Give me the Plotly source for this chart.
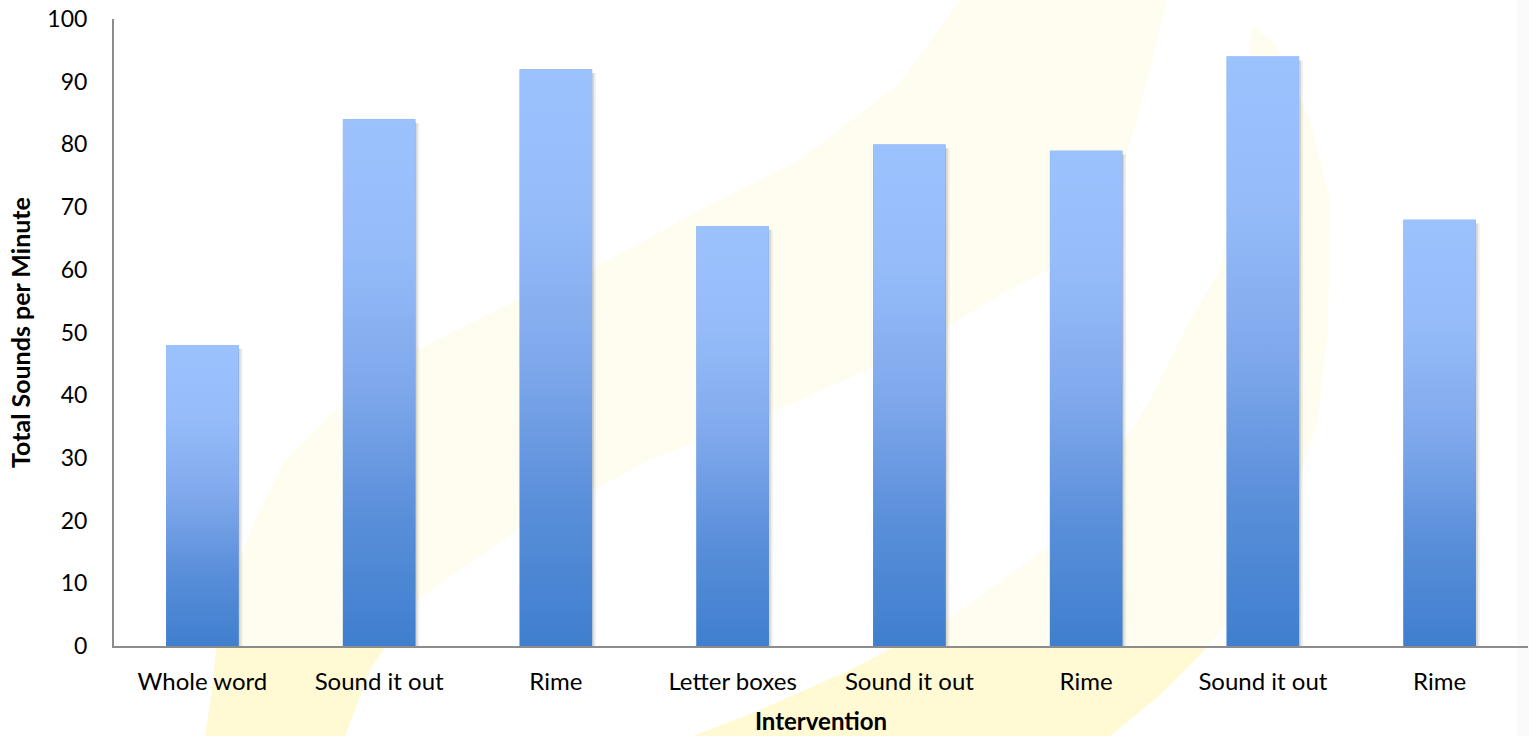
import plotly.graph_objects as go

# ---- data ----
categories = ["Whole word", "Sound it out", "Rime", "Letter boxes",
              "Sound it out", "Rime", "Sound it out", "Rime"]
values = [48, 84, 92, 67, 80, 79, 94, 68]
y_ticks = [0, 10, 20, 30, 40, 50, 60, 70, 80, 90, 100]
y_title = "Total Sounds per Minute"
x_title = "Intervention"

# ---- layout geometry / style ----
W, H = 1529, 736
ML, MR, MT, MB = 114, 1, 19, 90
PW, PH = W - ML - MR, H - MT - MB
BAR_W = 0.41
FONT = "Lato"

positions = list(range(len(categories)))

def px(x, y):
    """pixel -> paper coordinates"""
    return (x - ML) / PW, (H - MB - y) / PH

def path_from(points):
    pts = [px(x, y) for x, y in points]
    return "M " + " L ".join(f"{a:.5f},{b:.5f}" for a, b in pts) + " Z"

# faint background swoosh watermark (decorative)
band_a = [(205, 736), (212, 690), (217, 640), (235, 570), (255, 520), (285, 460),
          (330, 415), (417, 350), (517, 300), (600, 265), (700, 210), (800, 160),
          (900, 83), (960, 0), (1167, 0), (1150, 70), (1133, 133), (1100, 243),
          (1000, 295), (900, 355), (800, 400), (650, 460), (517, 530), (417, 600),
          (370, 670), (345, 736)]
band_b = [(693, 736), (760, 710), (850, 670), (950, 618), (1030, 560), (1100, 505),
          (1122, 445), (1150, 400), (1190, 320), (1220, 270), (1233, 200),
          (1245, 100), (1252, 25), (1275, 45), (1310, 120), (1330, 200),
          (1328, 330), (1318, 420), (1300, 475), (1265, 560), (1230, 620),
          (1200, 655), (1160, 695), (1110, 736)]

shapes = []
for band in (band_a, band_b):
    shapes.append(dict(type="path", xref="paper", yref="paper", path=path_from(band),
                       fillcolor="#FFF9D4", line=dict(width=0), layer="below"))
x0, y0 = px(0, 646)
x1, y1 = px(W, 0)
shapes.append(dict(type="rect", xref="paper", yref="paper", x0=x0, y0=y0, x1=x1, y1=y1,
                   fillcolor="rgba(255,255,255,0.62)", line=dict(width=0), layer="below"))
# faint grey strip at the right edge
rx0, _ = px(1517, 0)
shapes.append(dict(type="rect", xref="paper", yref="paper", x0=rx0, y0=px(0, H)[1],
                   x1=px(W, 0)[0], y1=px(0, 0)[1],
                   fillcolor="rgba(0,0,0,0.02)", line=dict(width=0), layer="below"))

fig = go.Figure()

# base bars
fig.add_trace(go.Bar(x=positions, y=values, width=BAR_W,
                     marker=dict(color="#6E9DE3", line=dict(width=0)),
                     showlegend=False, hoverinfo="skip"))

# soft shadows on the right of bars
dx_unit = 1.0 / (PW / 8.0)  # data units per pixel along x
for i, v in zip(positions, values):
    for off, alpha in ((2.0, 0.10), (4.0, 0.06)):
        xl = i - BAR_W / 2 + off * dx_unit
        xr = i + BAR_W / 2 + off * dx_unit
        top = v - 0.6
        fig.add_trace(go.Scatter(x=[xl, xr, xr, xl, xl], y=[0, 0, top, top, 0],
                                 mode="lines", fill="toself", line=dict(width=0),
                                 fillcolor=f"rgba(0,0,0,{alpha})",
                                 showlegend=False, hoverinfo="skip"))

# gradient faces of bars
grad = [[0.0, "#3F7FCE"], [0.25, "#5A8FDA"], [0.5, "#80A9EC"],
        [0.75, "#95BBF9"], [1.0, "#9CC2FE"]]
for i, v in zip(positions, values):
    xl = i - BAR_W / 2
    xr = i + BAR_W / 2
    fig.add_trace(go.Scatter(x=[xl, xr, xr, xl, xl], y=[0, 0, v, v, 0],
                             mode="lines", fill="toself", line=dict(width=0),
                             fillgradient=dict(type="vertical", colorscale=grad),
                             showlegend=False, hoverinfo="skip"))

fig.update_layout(
    width=W, height=H,
    margin=dict(l=ML, r=MR, t=MT, b=MB),
    paper_bgcolor="white",
    plot_bgcolor="rgba(0,0,0,0)",
    shapes=shapes,
    showlegend=False,
    font=dict(family=FONT, color="#000000"),
)
fig.update_xaxes(
    range=[-0.5, len(categories) - 0.5],
    tickmode="array", tickvals=positions, ticktext=categories,
    tickfont=dict(family=FONT, size=24, color="#000000"),
    showline=True, linecolor="#8C8C8C", linewidth=2,
    showgrid=False, zeroline=False, ticks="",
    ticklabelstandoff=13,
    title=dict(text=f"<b>{x_title}</b>", font=dict(family=FONT, size=24, color="#000000"),
               standoff=19),
)
fig.update_yaxes(
    range=[0, 100],
    tickmode="array", tickvals=y_ticks,
    tickfont=dict(family=FONT, size=23, color="#000000"),
    showline=True, linecolor="#8C8C8C", linewidth=2,
    showgrid=False, zeroline=False, ticks="",
    ticklabelstandoff=20,
    title=dict(text=f"<b>{y_title}</b>", font=dict(family=FONT, size=25, color="#000000"),
               standoff=10),
)

fig.write_html("out.html")
